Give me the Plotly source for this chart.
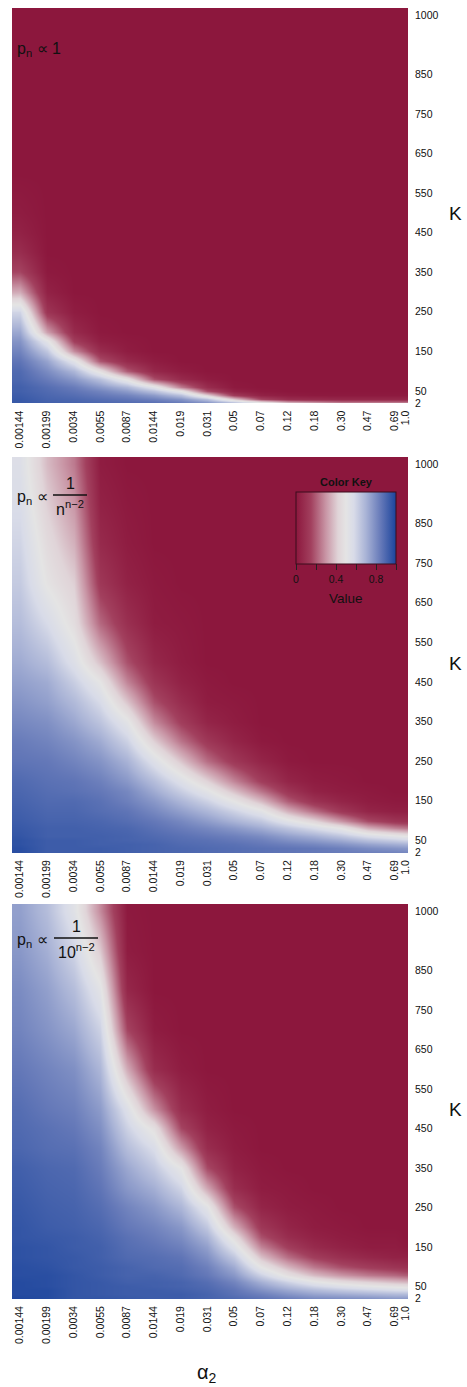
import numpy as np
import plotly.graph_objects as go

# ---- data -------------------------------------------------------------
alpha_labels = ["0.00144", "0.00199", "0.0034", "0.0055", "0.0087", "0.0144",
                "0.019", "0.031", "0.05", "0.07", "0.12", "0.18", "0.30",
                "0.47", "0.69", "1.0"]
# column index of each labelled alpha_2 value in the 74-column grid
alpha_cols = [1, 6, 11, 16, 21, 26, 31, 36, 41, 46, 51, 56, 61, 66, 71, 73]

k_rows = [2, 20, 30, 40, 50, 60, 80, 100, 125, 150, 175, 200, 250, 300, 350,
          400, 450, 500, 600, 700, 800, 900, 1000]
k_tick_text = ["2", "50", "150", "250", "350", "450", "550", "650", "750",
               "850", "1000"]
k_tick_vals = [19, 50, 150, 250, 350, 450, 550, 650, 750, 850, 1000]

# one list per alpha_2 column, values listed for k_rows (bottom to top)
p_uniform = [
    [0.95, 0.94, 0.94, 0.93, 0.92, 0.92, 0.90, 0.89, 0.86, 0.82, 0.78, 0.73, 0.60, 0.34, 0.16, 0.08, 0.04, 0.02, 0, 0, 0, 0, 0],
    [0.94, 0.92, 0.91, 0.90, 0.89, 0.88, 0.84, 0.80, 0.74, 0.64, 0.52, 0.32, 0.11, 0.04, 0.01, 0, 0, 0, 0, 0, 0, 0, 0],
    [0.94, 0.91, 0.90, 0.88, 0.86, 0.84, 0.77, 0.69, 0.53, 0.28, 0.14, 0.07, 0.02, 0, 0, 0, 0, 0, 0, 0, 0, 0, 0],
    [0.93, 0.90, 0.88, 0.85, 0.82, 0.77, 0.66, 0.47, 0.19, 0.08, 0.03, 0.01, 0, 0, 0, 0, 0, 0, 0, 0, 0, 0, 0],
    [0.93, 0.89, 0.86, 0.82, 0.76, 0.69, 0.48, 0.20, 0.07, 0.02, 0.01, 0, 0, 0, 0, 0, 0, 0, 0, 0, 0, 0, 0],
    [0.93, 0.88, 0.83, 0.76, 0.66, 0.53, 0.18, 0.06, 0.02, 0, 0, 0, 0, 0, 0, 0, 0, 0, 0, 0, 0, 0, 0],
    [0.93, 0.85, 0.78, 0.66, 0.50, 0.26, 0.07, 0.02, 0, 0, 0, 0, 0, 0, 0, 0, 0, 0, 0, 0, 0, 0, 0],
    [0.92, 0.80, 0.66, 0.42, 0.18, 0.08, 0.02, 0, 0, 0, 0, 0, 0, 0, 0, 0, 0, 0, 0, 0, 0, 0, 0],
    [0.91, 0.71, 0.40, 0.13, 0.04, 0.01, 0, 0, 0, 0, 0, 0, 0, 0, 0, 0, 0, 0, 0, 0, 0, 0, 0],
    [0.91, 0.58, 0.16, 0.04, 0.01, 0, 0, 0, 0, 0, 0, 0, 0, 0, 0, 0, 0, 0, 0, 0, 0, 0, 0],
    [0.91, 0.42, 0.08, 0.02, 0, 0, 0, 0, 0, 0, 0, 0, 0, 0, 0, 0, 0, 0, 0, 0, 0, 0, 0],
    [0.90, 0.36, 0.07, 0.01, 0, 0, 0, 0, 0, 0, 0, 0, 0, 0, 0, 0, 0, 0, 0, 0, 0, 0, 0],
    [0.89, 0.30, 0.06, 0.01, 0, 0, 0, 0, 0, 0, 0, 0, 0, 0, 0, 0, 0, 0, 0, 0, 0, 0, 0],
    [0.89, 0.30, 0.06, 0.01, 0, 0, 0, 0, 0, 0, 0, 0, 0, 0, 0, 0, 0, 0, 0, 0, 0, 0, 0],
    [0.89, 0.30, 0.06, 0.01, 0, 0, 0, 0, 0, 0, 0, 0, 0, 0, 0, 0, 0, 0, 0, 0, 0, 0, 0],
    [0.89, 0.30, 0.06, 0.01, 0, 0, 0, 0, 0, 0, 0, 0, 0, 0, 0, 0, 0, 0, 0, 0, 0, 0, 0],
]

p_n_pow = [
    [0.98, 0.97, 0.97, 0.96, 0.96, 0.95, 0.94, 0.93, 0.92, 0.91, 0.90, 0.89, 0.86, 0.84, 0.81, 0.78, 0.75, 0.72, 0.67, 0.63, 0.60, 0.57, 0.55],
    [0.94, 0.93, 0.93, 0.93, 0.93, 0.92, 0.92, 0.91, 0.90, 0.89, 0.88, 0.87, 0.85, 0.82, 0.79, 0.75, 0.72, 0.67, 0.58, 0.49, 0.45, 0.41, 0.37],
    [0.94, 0.93, 0.93, 0.93, 0.93, 0.92, 0.92, 0.91, 0.90, 0.89, 0.87, 0.86, 0.82, 0.78, 0.73, 0.68, 0.62, 0.55, 0.46, 0.41, 0.35, 0.30, 0.25],
    [0.93, 0.93, 0.93, 0.92, 0.92, 0.92, 0.91, 0.90, 0.88, 0.87, 0.85, 0.83, 0.78, 0.72, 0.65, 0.58, 0.50, 0.38, 0.22, 0.12, 0.07, 0.04, 0.02],
    [0.92, 0.92, 0.92, 0.92, 0.91, 0.91, 0.90, 0.88, 0.86, 0.83, 0.81, 0.77, 0.70, 0.61, 0.52, 0.39, 0.27, 0.18, 0.09, 0.04, 0.02, 0.01, 0],
    [0.91, 0.91, 0.91, 0.91, 0.90, 0.89, 0.87, 0.85, 0.81, 0.77, 0.72, 0.67, 0.55, 0.41, 0.28, 0.18, 0.11, 0.06, 0.02, 0.01, 0, 0, 0],
    [0.90, 0.90, 0.90, 0.89, 0.88, 0.87, 0.84, 0.81, 0.75, 0.69, 0.62, 0.55, 0.39, 0.24, 0.14, 0.08, 0.04, 0.02, 0.01, 0, 0, 0, 0],
    [0.89, 0.89, 0.89, 0.88, 0.87, 0.85, 0.81, 0.76, 0.69, 0.61, 0.52, 0.42, 0.23, 0.12, 0.05, 0.02, 0.01, 0, 0, 0, 0, 0, 0],
    [0.88, 0.88, 0.88, 0.87, 0.85, 0.83, 0.77, 0.70, 0.61, 0.50, 0.38, 0.27, 0.12, 0.05, 0.02, 0.01, 0, 0, 0, 0, 0, 0, 0],
    [0.87, 0.87, 0.87, 0.85, 0.83, 0.80, 0.72, 0.64, 0.52, 0.37, 0.24, 0.14, 0.05, 0.01, 0, 0, 0, 0, 0, 0, 0, 0, 0],
    [0.86, 0.86, 0.86, 0.83, 0.79, 0.75, 0.65, 0.53, 0.35, 0.20, 0.11, 0.05, 0.01, 0, 0, 0, 0, 0, 0, 0, 0, 0, 0],
    [0.85, 0.85, 0.85, 0.81, 0.76, 0.71, 0.58, 0.43, 0.23, 0.10, 0.04, 0.02, 0, 0, 0, 0, 0, 0, 0, 0, 0, 0, 0],
    [0.84, 0.84, 0.83, 0.78, 0.72, 0.65, 0.50, 0.30, 0.12, 0.05, 0.02, 0.01, 0, 0, 0, 0, 0, 0, 0, 0, 0, 0, 0],
    [0.83, 0.83, 0.80, 0.74, 0.66, 0.57, 0.35, 0.17, 0.05, 0.02, 0.01, 0, 0, 0, 0, 0, 0, 0, 0, 0, 0, 0, 0],
    [0.82, 0.82, 0.78, 0.71, 0.62, 0.52, 0.27, 0.11, 0.03, 0.01, 0, 0, 0, 0, 0, 0, 0, 0, 0, 0, 0, 0, 0],
    [0.81, 0.81, 0.77, 0.70, 0.60, 0.50, 0.25, 0.10, 0.03, 0.01, 0, 0, 0, 0, 0, 0, 0, 0, 0, 0, 0, 0, 0],
]

p_ten_pow = [
    [0.99, 0.99, 0.98, 0.98, 0.98, 0.98, 0.97, 0.97, 0.96, 0.96, 0.95, 0.95, 0.94, 0.93, 0.92, 0.90, 0.89, 0.88, 0.85, 0.82, 0.80, 0.77, 0.75],
    [0.99, 0.98, 0.98, 0.98, 0.97, 0.97, 0.97, 0.96, 0.95, 0.95, 0.94, 0.93, 0.92, 0.91, 0.90, 0.88, 0.87, 0.85, 0.82, 0.78, 0.75, 0.71, 0.67],
    [0.96, 0.95, 0.95, 0.95, 0.95, 0.95, 0.95, 0.94, 0.94, 0.93, 0.93, 0.92, 0.91, 0.90, 0.89, 0.87, 0.85, 0.83, 0.79, 0.73, 0.67, 0.60, 0.53],
    [0.95, 0.95, 0.94, 0.94, 0.94, 0.94, 0.93, 0.93, 0.92, 0.92, 0.91, 0.90, 0.88, 0.86, 0.84, 0.82, 0.79, 0.76, 0.69, 0.61, 0.52, 0.40, 0.28],
    [0.94, 0.94, 0.93, 0.93, 0.93, 0.92, 0.91, 0.91, 0.89, 0.88, 0.87, 0.85, 0.82, 0.77, 0.73, 0.67, 0.61, 0.55, 0.34, 0.16, 0.06, 0.02, 0.01],
    [0.94, 0.93, 0.93, 0.93, 0.92, 0.92, 0.91, 0.89, 0.88, 0.86, 0.84, 0.82, 0.77, 0.71, 0.64, 0.57, 0.47, 0.29, 0.08, 0.02, 0, 0, 0],
    [0.94, 0.93, 0.93, 0.92, 0.91, 0.91, 0.89, 0.88, 0.86, 0.83, 0.80, 0.77, 0.69, 0.60, 0.50, 0.31, 0.16, 0.08, 0.02, 0, 0, 0, 0],
    [0.93, 0.91, 0.91, 0.90, 0.89, 0.88, 0.85, 0.83, 0.79, 0.75, 0.70, 0.64, 0.52, 0.33, 0.17, 0.08, 0.04, 0.02, 0, 0, 0, 0, 0],
    [0.91, 0.89, 0.87, 0.86, 0.84, 0.82, 0.77, 0.72, 0.64, 0.55, 0.46, 0.35, 0.18, 0.08, 0.04, 0.02, 0.01, 0, 0, 0, 0, 0, 0],
    [0.90, 0.86, 0.83, 0.79, 0.75, 0.71, 0.61, 0.50, 0.38, 0.27, 0.18, 0.12, 0.05, 0.02, 0.01, 0, 0, 0, 0, 0, 0, 0, 0],
    [0.89, 0.83, 0.78, 0.73, 0.67, 0.61, 0.47, 0.36, 0.23, 0.14, 0.08, 0.05, 0.02, 0.01, 0, 0, 0, 0, 0, 0, 0, 0, 0],
    [0.88, 0.80, 0.74, 0.68, 0.60, 0.52, 0.37, 0.25, 0.14, 0.07, 0.04, 0.02, 0.01, 0, 0, 0, 0, 0, 0, 0, 0, 0, 0],
    [0.87, 0.79, 0.72, 0.64, 0.55, 0.46, 0.30, 0.18, 0.09, 0.04, 0.02, 0.01, 0, 0, 0, 0, 0, 0, 0, 0, 0, 0, 0],
    [0.87, 0.78, 0.70, 0.61, 0.51, 0.42, 0.25, 0.14, 0.06, 0.02, 0.01, 0, 0, 0, 0, 0, 0, 0, 0, 0, 0, 0, 0],
    [0.87, 0.76, 0.68, 0.58, 0.48, 0.38, 0.22, 0.11, 0.04, 0.02, 0.01, 0, 0, 0, 0, 0, 0, 0, 0, 0, 0, 0, 0],
    [0.87, 0.76, 0.68, 0.57, 0.47, 0.37, 0.20, 0.10, 0.04, 0.01, 0, 0, 0, 0, 0, 0, 0, 0, 0, 0, 0, 0, 0],
]

for grid in (p_uniform, p_n_pow, p_ten_pow):
    assert len(grid) == len(alpha_cols)
    assert all(len(col) == len(k_rows) for col in grid)

# ---- layout geometry (pixels) ----------------------------------------
W, H = 467, 1387
ML, MR, MT, MB = 12, 59, 8, 88
PW, PH = W - ML - MR, H - MT - MB
panels_px = [(8, 403.5), (457, 853), (904, 1299)]


def px_x(x):
    return (x - ML) / PW


def px_y(y):
    return 1 - (y - MT) / PH


FONT = "Liberation Sans, Arial, sans-serif"
TXT = "#111111"

# red - white - blue ramp with a broad pale centre
colorscale = [[0.0, "#8c173d"], [0.15, "#a2405e"], [0.30, "#c996a6"],
              [0.42, "#e0d4d8"], [0.50, "#e4e4e4"], [0.58, "#d8dbe8"],
              [0.70, "#a9b3d6"], [0.85, "#6478b8"], [1.0, "#1b449c"]]

fig = go.Figure()

for i, cols in enumerate([p_uniform, p_n_pow, p_ten_pow]):
    z = np.array(cols, dtype=float).T  # rows = K, columns = alpha_2
    ax = "" if i == 0 else str(i + 1)
    fig.add_trace(go.Heatmap(
        x=alpha_cols, y=k_rows, z=z,
        coloraxis="coloraxis", zsmooth="best",
        xaxis="x" + ax, yaxis="y" + ax, hoverinfo="skip",
    ))
    top, bot = panels_px[i]
    fig.update_layout(**{
        "xaxis" + ax: dict(
            domain=[0, 1], range=[-0.5, 73.5], anchor="y" + ax,
            tickmode="array", tickvals=alpha_cols, ticktext=alpha_labels,
            tickangle=-90, ticks="", showgrid=False, zeroline=False,
            showline=False, ticklabelstandoff=4,
            tickfont=dict(family=FONT, size=10.5, color=TXT),
        ),
        "yaxis" + ax: dict(
            domain=[px_y(bot), px_y(top)], range=[18, 1018], anchor="x" + ax,
            side="right", tickmode="array", tickvals=k_tick_vals,
            ticktext=k_tick_text, ticks="", showgrid=False, zeroline=False,
            showline=False, ticklabelstandoff=6,
            tickfont=dict(family=FONT, size=10.5, color=TXT),
        ),
    })
    # K axis title
    fig.add_annotation(
        x=px_x(455), y=px_y((top + bot) / 2 + 8), xref="paper", yref="paper",
        text="K", showarrow=False, xanchor="center", yanchor="middle",
        font=dict(family=FONT, size=19, color=TXT),
    )

# distribution labels inside each panel
fig.add_annotation(x=px_x(15), y=px_y(49), xref="paper", yref="paper",
                   text="p<sub>n</sub> \u221d 1", showarrow=False,
                   xanchor="left", yanchor="middle",
                   font=dict(family=FONT, size=16, color=TXT))

for (lab_y, line_y, cx, x0, x1, denom) in [
        (497, 495, 70, 53, 87, "n<sup>n\u22122</sup>"),
        (940, 938, 76, 54, 98, "10<sup>n\u22122</sup>")]:
    fig.add_annotation(x=px_x(15), y=px_y(lab_y), xref="paper", yref="paper",
                       text="p<sub>n</sub> \u221d", showarrow=False,
                       xanchor="left", yanchor="middle",
                       font=dict(family=FONT, size=16, color=TXT))
    fig.add_annotation(x=px_x(cx), y=px_y(line_y - 1), xref="paper",
                       yref="paper", text="1", showarrow=False,
                       xanchor="center", yanchor="bottom",
                       font=dict(family=FONT, size=16, color=TXT))
    fig.add_annotation(x=px_x(cx), y=px_y(line_y + 1), xref="paper",
                       yref="paper", text=denom, showarrow=False,
                       xanchor="center", yanchor="top",
                       font=dict(family=FONT, size=16, color=TXT))
    fig.add_shape(type="line", xref="paper", yref="paper",
                  x0=px_x(x0), x1=px_x(x1), y0=px_y(line_y), y1=px_y(line_y),
                  line=dict(color=TXT, width=1.3))

# colour key
fig.add_annotation(x=px_x(346), y=px_y(482), xref="paper", yref="paper",
                   text="<b>Color Key</b>", showarrow=False,
                   xanchor="center", yanchor="middle",
                   font=dict(family=FONT, size=11, color=TXT))
fig.add_annotation(x=px_x(346), y=px_y(598), xref="paper", yref="paper",
                   text="Value", showarrow=False,
                   xanchor="center", yanchor="middle",
                   font=dict(family=FONT, size=13.5, color=TXT))

# alpha_2 axis title
fig.add_annotation(x=px_x(207), y=px_y(1373), xref="paper", yref="paper",
                   text="\u03b1<sub>2</sub>", showarrow=False,
                   xanchor="center", yanchor="middle",
                   font=dict(family=FONT, size=20, color=TXT))

fig.update_layout(
    width=W, height=H,
    margin=dict(l=ML, r=MR, t=MT, b=MB, pad=0),
    paper_bgcolor="white", plot_bgcolor="white",
    template="none", showlegend=False,
    coloraxis=dict(
        cmin=0, cmax=1, colorscale=colorscale,
        colorbar=dict(
            orientation="h", xanchor="left", yanchor="top",
            x=px_x(296), y=px_y(492), len=100 / PW, lenmode="fraction",
            thickness=72, thicknessmode="pixels", xpad=0, ypad=0,
            outlinewidth=1, outlinecolor="#3a0d1c",
            tickmode="linear", tick0=0, dtick=0.2, ticklabelstep=2,
            ticks="outside", ticklen=6, tickwidth=1, tickcolor="#222222",
            tickfont=dict(family=FONT, size=10.5, color=TXT),
        ),
    ),
)

fig.write_html("out.html")
